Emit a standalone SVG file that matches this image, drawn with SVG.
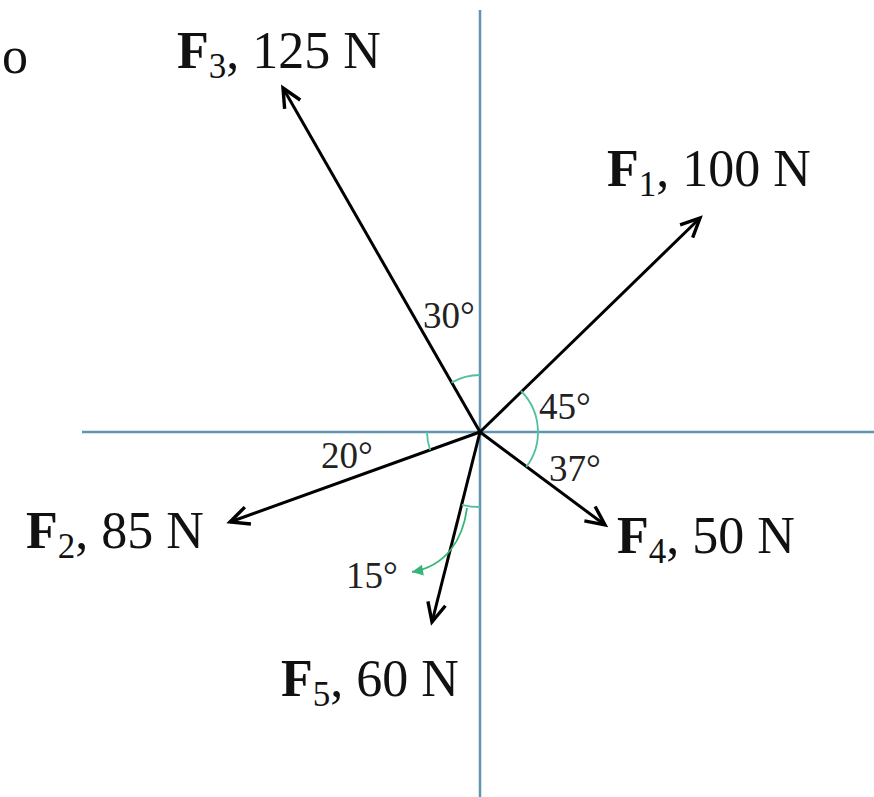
<svg xmlns="http://www.w3.org/2000/svg" width="874" height="797" viewBox="0 0 874 797">
<style>
.axis{stroke:#5f95ae;stroke-width:2.5;fill:none}
.force{stroke:#000;stroke-width:3;fill:none}
.arc{stroke:#52c0a0;stroke-width:1.8;fill:none}
.lbl{font-family:"Liberation Serif","Times New Roman",serif;font-size:52px;fill:#111}
.lbl .b{font-weight:bold}
.lbl .s{font-size:35px}
.ang{font-family:"Liberation Serif","Times New Roman",serif;font-size:37px;fill:#222}
</style>
<defs>
<marker id="ah" viewBox="-24 -14 28 28" refX="0" refY="0" markerWidth="28" markerHeight="28" markerUnits="userSpaceOnUse" orient="auto">
<path d="M-19,-9 L0,0 L-19,9" fill="none" stroke="#000" stroke-width="3.4"/>
</marker>
<marker id="gh" viewBox="-14 -8 16 16" refX="0" refY="0" markerWidth="16" markerHeight="16" markerUnits="userSpaceOnUse" orient="auto">
<path d="M-11,-5.5 L0,0 L-11,5.5 Z" fill="#35b576"/>
</marker>
</defs>
<rect width="874" height="797" fill="#fff"/>
<text x="2" y="73" font-family="Liberation Serif, serif" font-size="52" fill="#111">o</text>
<g id="axes">
<line class="axis" x1="480" y1="10" x2="480" y2="797"/>
<line class="axis" x1="82" y1="432" x2="874" y2="432"/>
</g>
<g id="connectors">
<line id="f1-line" class="force" x1="480" y1="432" x2="700" y2="218" marker-end="url(#ah)"/>
<line id="f2-line" class="force" x1="480" y1="432" x2="230" y2="522" marker-end="url(#ah)"/>
<line id="f3-line" class="force" x1="480" y1="432" x2="283" y2="88" marker-end="url(#ah)"/>
<line id="f4-line" class="force" x1="480" y1="432" x2="605" y2="525" marker-end="url(#ah)"/>
<line id="f5-line" class="force" x1="480" y1="432" x2="432" y2="622" marker-end="url(#ah)"/>
</g>
<g id="angles">
<path class="arc" d="M451.5,382.6 A57,57 0 0 1 480,375"/>
<path class="arc" d="M521,391 A58,58 0 0 1 526.3,466.9"/>
<path class="arc" d="M427,432 A53,53 0 0 0 430.2,450.1"/>
<path class="arc" d="M480,507 A75,75 0 0 1 461.9,504.8"/>
<path d="M467,508 C463,540 446,566 412,572" fill="none" stroke="#35b576" stroke-width="1.8" marker-end="url(#gh)"/>
<text class="ang" x="423" y="328">30°</text>
<text class="ang" x="539" y="419">45°</text>
<text class="ang" x="549" y="481">37°</text>
<text class="ang" x="321" y="468">20°</text>
<text class="ang" x="346" y="588">15°</text>
</g>
<g id="F1"><text class="lbl" x="607" y="186"><tspan class="b">F</tspan><tspan class="s" dy="10">1</tspan><tspan dy="-10">, 100 N</tspan></text></g>
<g id="F2"><text class="lbl" x="26" y="548"><tspan class="b">F</tspan><tspan class="s" dy="10">2</tspan><tspan dy="-10">, 85 N</tspan></text></g>
<g id="F3"><text class="lbl" x="177" y="68"><tspan class="b">F</tspan><tspan class="s" dy="10">3</tspan><tspan dy="-10">, 125 N</tspan></text></g>
<g id="F4"><text class="lbl" x="617" y="553"><tspan class="b">F</tspan><tspan class="s" dy="10">4</tspan><tspan dy="-10">, 50 N</tspan></text></g>
<g id="F5"><text class="lbl" x="281" y="696"><tspan class="b">F</tspan><tspan class="s" dy="10">5</tspan><tspan dy="-10">, 60 N</tspan></text></g>
</svg>
